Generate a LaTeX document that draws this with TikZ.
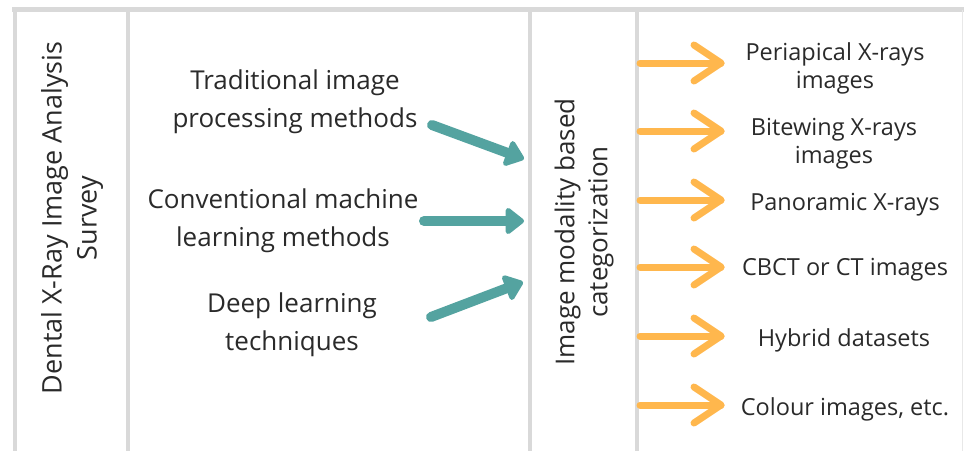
\documentclass[tikz,border=0pt]{standalone}
\usepackage{fontspec}
\setmainfont{Open Sans}
\usetikzlibrary{arrows.meta}
\definecolor{gridgray}{HTML}{D9D9D9}
\definecolor{tealarrow}{HTML}{54A3A0}
\definecolor{orangearrow}{HTML}{FFB74D}
\definecolor{txt}{HTML}{2A2A2A}
\tikzset{
  divider/.style={draw=gridgray, line width=4.5pt},
  midtext/.style={align=center, text=txt, font=\fontsize{26}{38}\selectfont, inner sep=0pt},
  titletext/.style={align=center, text=txt, font=\fontsize{27}{35}\selectfont, inner sep=0pt},
  cattext/.style={align=center, text=txt, font=\fontsize{26}{33}\selectfont, inner sep=0pt},
  righttext/.style={align=center, text=txt, font=\fontsize{23.5}{28}\selectfont, inner sep=0pt},
  tealarr/.style={draw=tealarrow, line width=10pt, line cap=round,
    -{Triangle[length=20pt,width=30pt,round]}},
  orangearr/.style={draw=orangearrow, line width=7pt, line cap=round, line join=round}
}
\begin{document}
\begin{tikzpicture}[x=1pt,y=-1pt]
\useasboundingbox (0,0) rectangle (964,451);
\fill[white] (0,0) rectangle (964,451);
% frame
\coordinate (tl) at (12,9.5);
\coordinate (tr) at (964,9.5);
\draw[divider] (tl) -- (tr);
\draw[draw=gridgray!60, line width=1pt] (962.5,9.5) -- (962.5,451);
\foreach \x/\n in {15/a,128/b,530/c,637/d}{
  \coordinate (\n top) at (\x,9.5);
  \coordinate (\n bot) at (\x,451);
  \draw[divider] (\n top) -- (\n bot);
}
% left title
\node[titletext, rotate=90] (title) at (72,218) {Dental X-Ray Image Analysis\\Survey};
% middle texts
\node[midtext] (trad) at (295,102) {Traditional image\\processing methods};
\node[midtext] (conv) at (283,221) {Conventional machine\\learning methods};
\node[midtext] (deep) at (292,325) {Deep learning\\techniques};
% category
\node[cattext, rotate=90] (cat) at (584,232) {Image modality based\\categorization};
% teal arrows
\coordinate (t1s) at (432,125); \coordinate (t1e) at (524,159);
\coordinate (t2s) at (424,221); \coordinate (t2e) at (524,221);
\coordinate (t3s) at (431,317); \coordinate (t3e) at (523,282);
\draw[tealarr] (t1s) -- (t1e);
\draw[tealarr] (t2s) -- (t2e);
\draw[tealarr] (t3s) -- (t3e);
% right side
\foreach \y/\n in {63/o1,131/o2,200/o3,267/o4,336/o5,405/o6}{
  \coordinate (\n s) at (640,\y);
  \coordinate (\n e) at (721,\y);
  \coordinate (\n u) at (694,\y-18);
  \coordinate (\n d) at (694,\y+18);
  \draw[orangearr] (\n s) -- (\n e);
  \draw[orangearr] (\n u) -- (\n e) -- (\n d);
}
\node[righttext] (r1) at (835,68) {Periapical X-rays\\images};
\node[righttext] (r2) at (834,144) {Bitewing X-rays\\images};
\node[righttext] (r3) at (845,205) {Panoramic X-rays};
\node[righttext] (r4) at (845,270) {CBCT or CT images};
\node[righttext] (r5) at (844,340) {Hybrid datasets};
\node[righttext] (r6) at (845,409) {Colour images, etc.};
\end{tikzpicture}
\end{document}
